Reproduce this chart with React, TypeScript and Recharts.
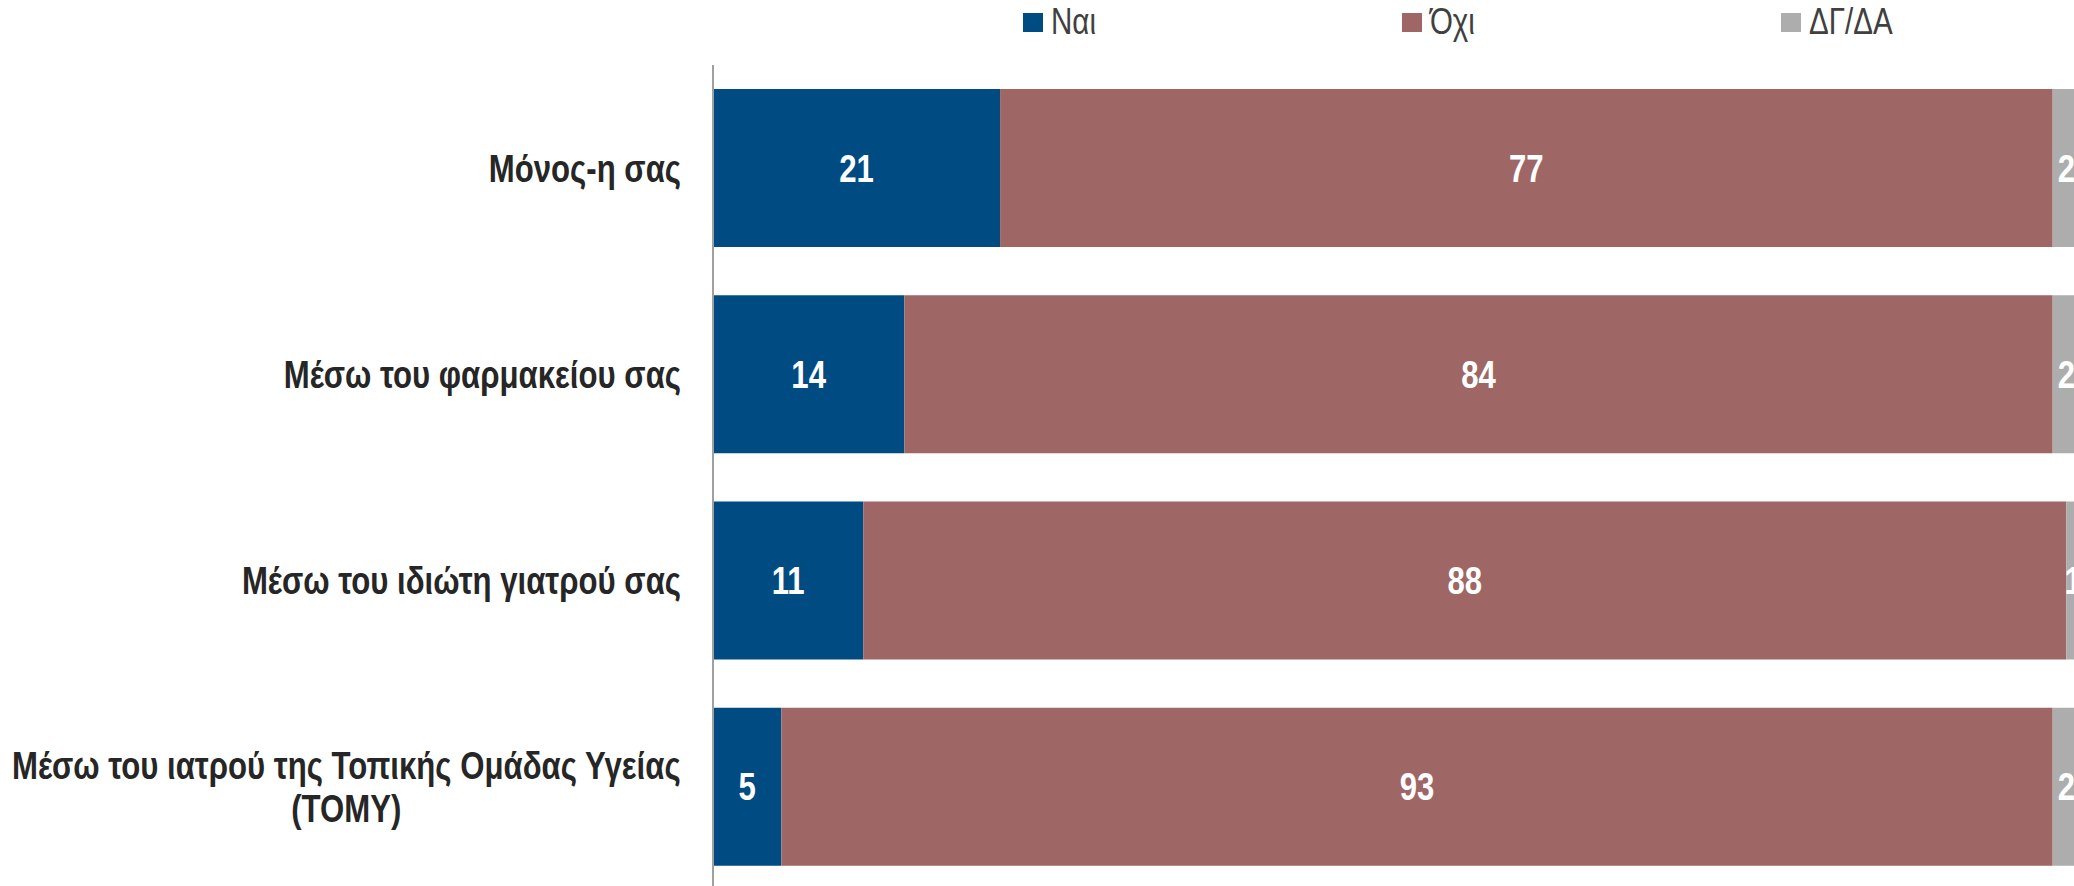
import { Bar, BarChart, LabelList, XAxis, YAxis } from 'recharts';

const categories = [
  'Μόνος-η σας',
  'Μέσω του φαρμακείου σας',
  'Μέσω του ιδιώτη γιατρού σας',
  'Μέσω του ιατρού της Τοπικής Ομάδας Υγείας\n(ΤΟΜΥ)'
];
const yes = [21, 14, 11, 5];
const no = [77, 84, 88, 93];
const dkna = [2, 2, 1, 2];

const seriesNames = ['Ναι', 'Όχι', 'ΔΓ/ΔΑ'];
const seriesColors = ['#004b82', '#9e6664', '#adadad'];

const data = categories.map((name, i) => ({
  name,
  yes: yes[i],
  no: no[i],
  dkna: dkna[i]
}));

// no Arial Narrow here, so squeeze Liberation Sans (Arial metrics) horizontally
const FONT = '"Liberation Sans", Arial, sans-serif';
const NARROW = 0.82;
const SIZE = 38;

let ctx: CanvasRenderingContext2D | null = null;
function textWidth(text: string, font: string) {
  if (!ctx) ctx = document.createElement('canvas').getContext('2d');
  if (!ctx) return text.length * 16;
  ctx.font = font;
  return ctx.measureText(text).width * NARROW;
}

function NarrowText(props: any) {
  const { x, y, anchor, weight, fill, children } = props;
  return (
    <text
      transform={`translate(${x} ${y}) scale(${NARROW} 1)`}
      dy='0.36em'
      textAnchor={anchor}
      fontFamily={FONT}
      fontWeight={weight}
      fontSize={SIZE}
      fill={fill}
    >
      {children}
    </text>
  );
}

function CategoryTick(props: any) {
  const { x, y, payload } = props;
  const lines: string[] = String(payload.value).split('\n');
  const widest = Math.max(...lines.map((l) => textWidth(l, `bold ${SIZE}px ${FONT}`)));
  const lineH = 43;
  const startY = y - ((lines.length - 1) * lineH) / 2;
  return (
    <g>
      {lines.map((line, i) => (
        <NarrowText
          key={i}
          x={lines.length > 1 ? x - widest / 2 : x}
          y={startY + i * lineH}
          anchor={lines.length > 1 ? 'middle' : 'end'}
          weight='bold'
          fill='#262626'
        >
          {line}
        </NarrowText>
      ))}
    </g>
  );
}

function ValueLabel(props: any) {
  const { x, y, width, height, value } = props;
  return (
    <NarrowText
      x={x + width / 2}
      y={y + height / 2}
      anchor='middle'
      weight='bold'
      fill='#ffffff'
    >
      {value}
    </NarrowText>
  );
}

export default function App() {
  const keys = ['yes', 'no', 'dkna'];
  return (
    <div
      style={{
        position: 'fixed',
        top: 0,
        left: 0,
        width: 2074,
        height: 886,
        overflow: 'hidden',
        background: '#fff'
      }}
    >
      <div
        style={{
          position: 'absolute',
          top: 0,
          left: 1023,
          display: 'flex',
          fontFamily: FONT,
          fontSize: 36,
          color: '#404040'
        }}
      >
        {seriesNames.map((n, i) => (
          <div
            key={n}
            style={{ width: 379, display: 'flex', alignItems: 'center', height: 44 }}
          >
            <span
              style={{
                display: 'inline-block',
                width: 20,
                height: 19,
                background: seriesColors[i],
                marginRight: 8
              }}
            />
            <span
              style={{
                display: 'inline-block',
                transform: `scaleX(${NARROW})`,
                transformOrigin: 'left center'
              }}
            >
              {n}
            </span>
          </div>
        ))}
      </div>
      <BarChart
        width={2090}
        height={900}
        data={data}
        layout='vertical'
        margin={{ top: 65, right: 10, bottom: 10, left: 0 }}
        barCategoryGap={24}
      >
        <XAxis
          type='number'
          orientation='top'
          domain={[0, 100]}
          tick={false}
          tickLine={false}
          height={0}
          axisLine={{ stroke: '#ebebeb', strokeWidth: 3 }}
        />
        <YAxis
          type='category'
          dataKey='name'
          width={713}
          tickLine={false}
          tickMargin={26}
          axisLine={{ stroke: '#a0a0a0', strokeWidth: 2 }}
          tick={<CategoryTick />}
          interval={0}
        />
        {keys.map((k, i) => (
          <Bar
            key={k}
            dataKey={k}
            name={seriesNames[i]}
            stackId='a'
            fill={seriesColors[i]}
            isAnimationActive={false}
          >
            <LabelList dataKey={k} content={<ValueLabel />} />
          </Bar>
        ))}
      </BarChart>
    </div>
  );
}
